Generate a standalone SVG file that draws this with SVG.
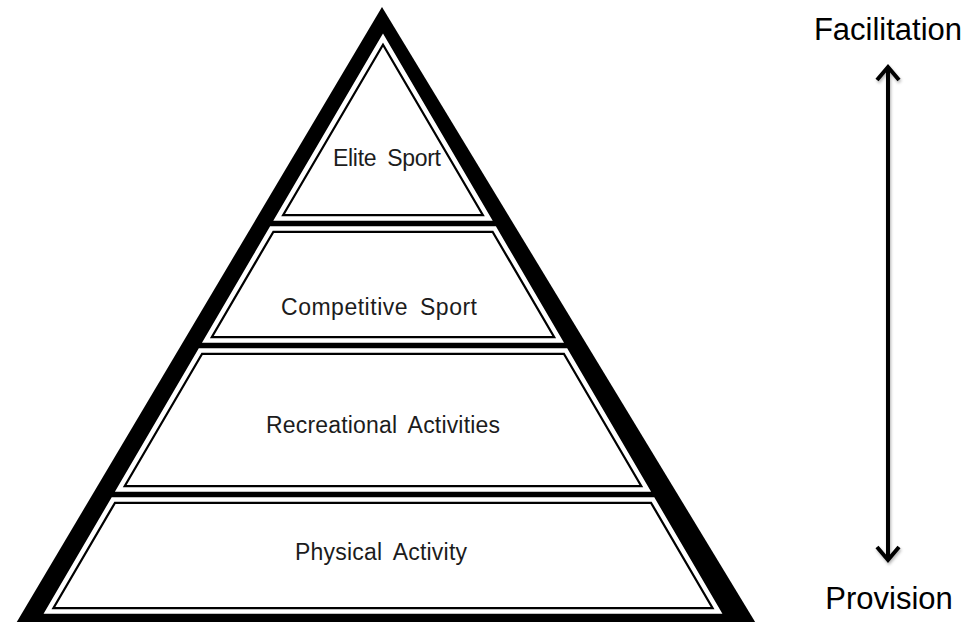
<svg xmlns="http://www.w3.org/2000/svg" width="980" height="622" viewBox="0 0 980 622">
  <defs>
    <style>
      .band { fill: #ffffff; stroke: #000000; stroke-width: 9; stroke-linejoin: miter; }
      .gap { fill: none; stroke: #ffffff; stroke-width: 4.5; stroke-linejoin: miter; }
      .lbl { font-family: "Liberation Sans", Arial, sans-serif; font-size: 23px; fill: #1c1c1c; word-spacing: 5px; }
      .side { font-family: "Liberation Sans", Arial, sans-serif; font-size: 31px; fill: #000000; text-anchor: middle; }
      .arrow { stroke: #000000; stroke-width: 4; fill: none; }
    </style>
    <filter id="shadow" filterUnits="userSpaceOnUse" x="850" y="40" width="80" height="550">
      <feDropShadow dx="1" dy="2" stdDeviation="1.5" flood-color="#000000" flood-opacity="0.3"/>
    </filter>
    <marker id="chev" markerUnits="userSpaceOnUse" viewBox="-3 -15 20 30" markerWidth="20" markerHeight="30" refX="13" refY="0" orient="auto-start-reverse">
      <path d="M0,-11 L13,0 L0,11" fill="none" stroke="#000000" stroke-width="4" stroke-linejoin="miter"/>
    </marker>
  </defs>
  <rect width="980" height="622" fill="#ffffff"/>

  <g id="pyramid-frame">
    <polygon points="382,7 12,630 760,630" fill="#000000"/>
  </g>

  <g id="elite-sport">
    <polygon class="band" points="383,38 277.2,218.5 488.8,218.5"/>
    <polygon class="gap" points="383,38 277.2,218.5 488.8,218.5"/>
    <text class="lbl" x="333" y="166" textLength="108" lengthAdjust="spacing">Elite Sport</text>
  </g>

  <g id="competitive-sport">
    <polygon class="band" points="271.4,228.5 494.6,228.5 560.1,340.5 205.9,340.5"/>
    <polygon class="gap" points="271.4,228.5 494.6,228.5 560.1,340.5 205.9,340.5"/>
    <text class="lbl" x="281" y="315" textLength="196" lengthAdjust="spacing">Competitive Sport</text>
  </g>

  <g id="recreational-activities">
    <polygon class="band" points="200.1,350.5 565.9,350.5 647.2,489.5 118.8,489.5"/>
    <polygon class="gap" points="200.1,350.5 565.9,350.5 647.2,489.5 118.8,489.5"/>
    <text class="lbl" x="266" y="433" textLength="234" lengthAdjust="spacing">Recreational Activities</text>
  </g>

  <g id="physical-activity">
    <polygon class="band" points="113,499.5 653,499.5 718.5,611.5 47.5,611.5"/>
    <polygon class="gap" points="113,499.5 653,499.5 718.5,611.5 47.5,611.5"/>
    <text class="lbl" x="295" y="560" textLength="172" lengthAdjust="spacing">Physical Activity</text>
  </g>

  <g id="facilitation">
    <text class="side" x="888" y="40">Facilitation</text>
  </g>

  <g id="provision">
    <text class="side" x="889" y="609">Provision</text>
  </g>

  <g id="connectors" filter="url(#shadow)">
    <line class="arrow" x1="888" y1="67" x2="888" y2="560" marker-start="url(#chev)" marker-end="url(#chev)"/>
  </g>
</svg>
